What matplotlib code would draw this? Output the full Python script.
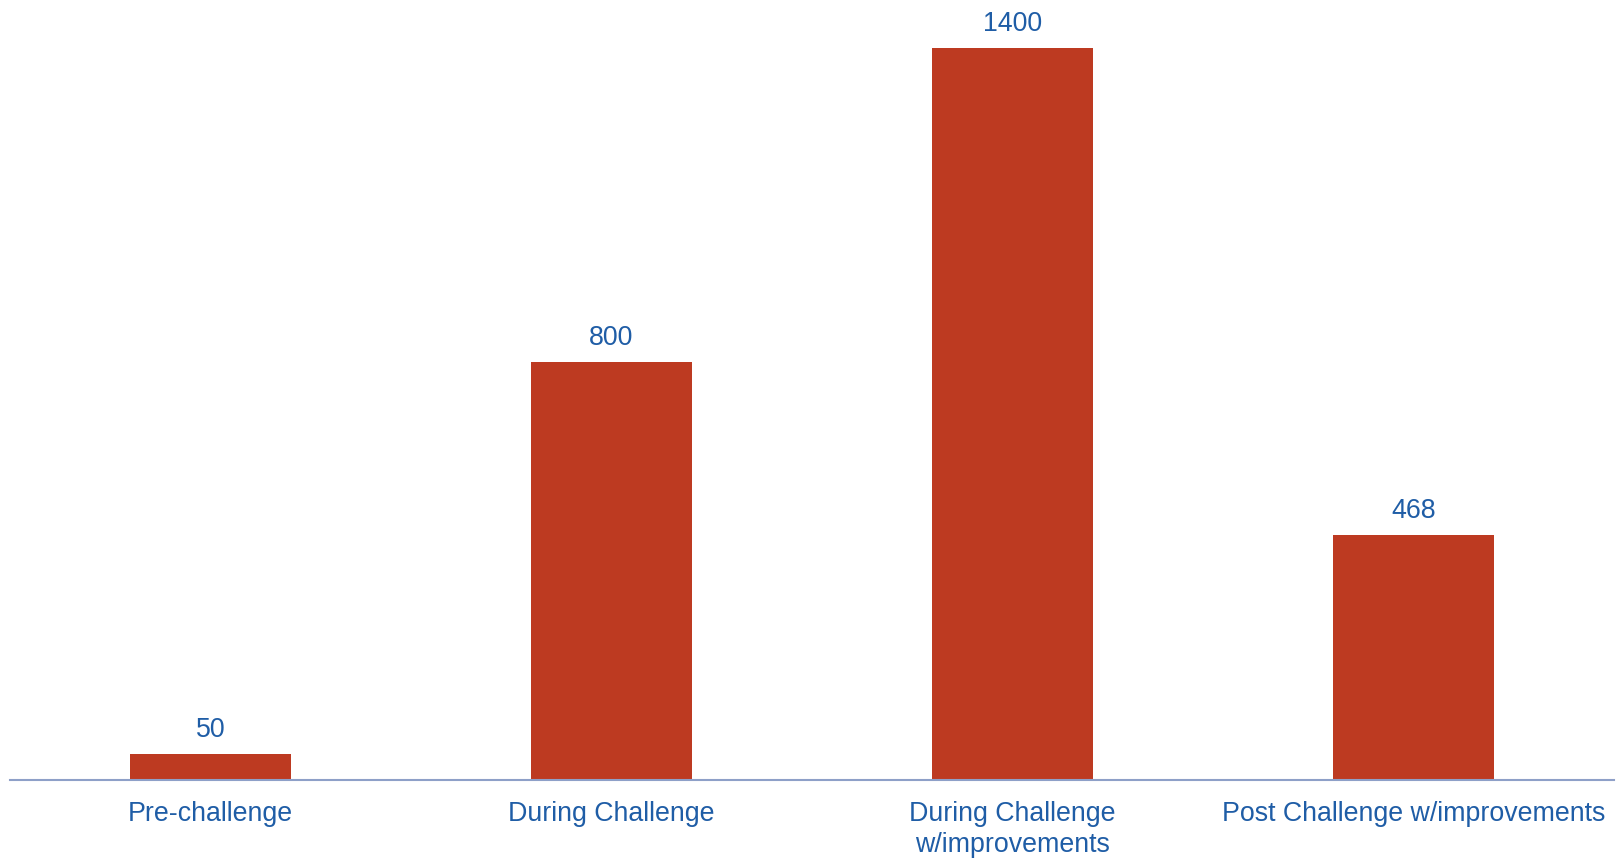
import matplotlib.pyplot as plt

# Chart values
categories = ["Pre-challenge", "During Challenge", "During Challenge\nw/improvements",
              "Post Challenge w/improvements"]
values = [50, 800, 1400, 468]

BAR_COLOR = "#BD3A21"
TEXT_COLOR = "#1F5DA6"
AXIS_COLOR = "#8EA0C8"

plt.rcParams['font.family'] = ['Liberation Sans', 'DejaVu Sans']


def plot_chart():
    fig = plt.figure(figsize=(16.19, 8.58), dpi=100)
    ax = fig.add_axes([10 / 1619, 78 / 858, 1604 / 1619, 780 / 858])
    x = range(len(categories))
    bars = ax.bar(x, values, width=0.4, color=BAR_COLOR)
    ax.set_xlim(-0.5, 3.5)
    ax.set_ylim(0, 1400 * 780 / 732)

    for b, v in zip(bars, values):
        ax.annotate(str(v), (b.get_x() + b.get_width() / 2, v),
                    xytext=(0, 8), textcoords="offset points",
                    ha="center", va="bottom", fontsize=19.3, color=TEXT_COLOR)

    ax.set_xticks(list(x))
    ax.set_xticklabels(categories, fontsize=19.3, color=TEXT_COLOR, linespacing=1.25)
    ax.tick_params(axis="x", length=0, pad=15)
    ax.set_yticks([])
    for side in ["left", "right", "top"]:
        ax.spines[side].set_visible(False)
    ax.spines["bottom"].set_color(AXIS_COLOR)
    ax.spines["bottom"].set_linewidth(1.5)

    fig.savefig("out.png", dpi=100)


if __name__ == "__main__":
    plot_chart()
